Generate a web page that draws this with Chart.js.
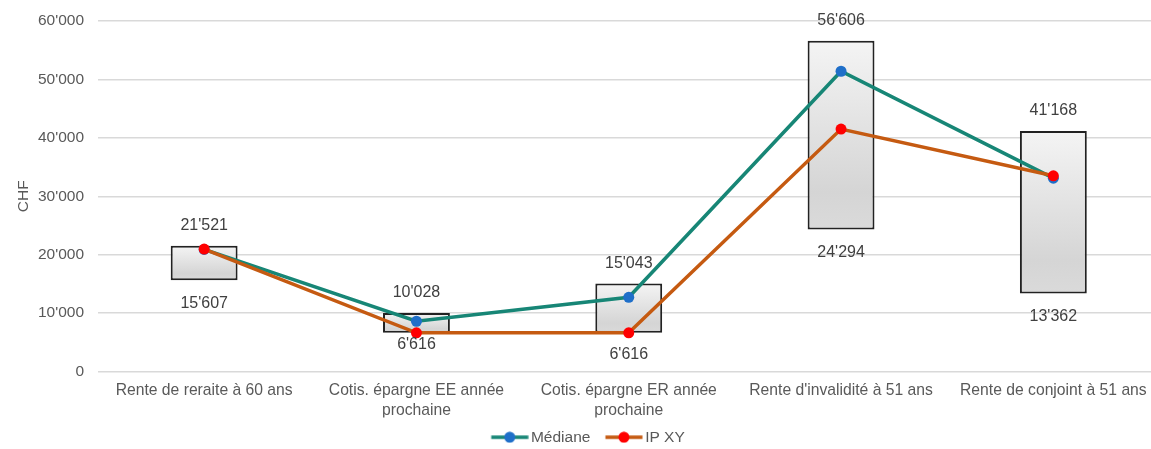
<!DOCTYPE html>
<html>
<head>
<meta charset="utf-8">
<script src="https://cdn.jsdelivr.net/npm/chart.js@4/dist/chart.umd.min.js"></script>
<style>
  html, body { margin: 0; padding: 0; background: #ffffff; overflow: hidden; }
  #wrap { width: 1165px; height: 449px; overflow: hidden; }
</style>
</head>
<body>
<div id="wrap"><canvas id="chart" width="1165" height="455"></canvas></div>
<script>
// Categories (multi-line labels as arrays)
const categories = [
  ['Rente de reraite à 60 ans'],
  ['Cotis. épargne EE année', 'prochaine'],
  ['Cotis. épargne ER année', 'prochaine'],
  ["Rente d'invalidité à 51 ans"],
  ['Rente de conjoint à 51 ans']
];

// Range (min – max) per category
const rangeMin = [15607, 6616, 6616, 24294, 13362];
const rangeMax = [21521, 10028, 15043, 56606, 41168];

// Series
const mediane = [20900, 8600, 12700, 51400, 33100];
const ipXY = [20950, 6616, 6616, 41500, 33500];

// Y axis
const yMin = 0;
const yMax = 60000;
const yStep = 10000;

const FONT = "'Liberation Sans', Arial, sans-serif";
const TEAL = '#178676';
const BLUE = '#1f6fc9';
const ORANGE = '#c55a11';
const RED = '#ff0000';

function fmt(v) {
  return String(Math.round(v)).replace(/\B(?=(\d{3})+(?!\d))/g, "'");
}

// Legend marker: a short line with a dot in the middle, shifted so the
// text sits close to the line end
function legendMarker(lineColor, dotColor) {
  const c = document.createElement('canvas');
  c.width = 46; c.height = 12;
  const g = c.getContext('2d');
  g.strokeStyle = lineColor;
  g.lineWidth = 3.5;
  g.beginPath(); g.moveTo(8.5, 6); g.lineTo(45.5, 6); g.stroke();
  g.fillStyle = dotColor;
  g.beginPath(); g.arc(27, 6, 5.5, 0, Math.PI * 2); g.fill();
  return c;
}

// Min / max labels around each range box
const rangeLabels = {
  id: 'rangeLabels',
  afterDatasetsDraw(chart, args, opts) {
    const ctx = chart.ctx;
    const y = chart.scales.y;
    const meta = chart.getDatasetMeta(2);
    ctx.save();
    ctx.font = opts.size + 'px ' + FONT;
    ctx.fillStyle = opts.color;
    ctx.textAlign = 'center';
    ctx.textBaseline = 'middle';
    meta.data.forEach((bar, i) => {
      ctx.fillText(fmt(rangeMax[i]), bar.x, y.getPixelForValue(rangeMax[i]) - opts.above);
      ctx.fillText(fmt(rangeMin[i]), bar.x, y.getPixelForValue(rangeMin[i]) + opts.below[i]);
    });
    ctx.restore();
  }
};

function boxFill(context) {
  const chart = context.chart;
  if (!chart.chartArea || context.type !== 'data') return '#e2e2e2';
  const y = chart.scales.y;
  const i = context.dataIndex;
  const top = y.getPixelForValue(rangeMax[i]);
  const bot = y.getPixelForValue(rangeMin[i]);
  const g = chart.ctx.createLinearGradient(0, top, 0, bot);
  g.addColorStop(0, '#f4f4f4');
  g.addColorStop(0.8, '#d5d5d5');
  g.addColorStop(1, '#dadada');
  return g;
}

new Chart(document.getElementById('chart'), {
  data: {
    labels: categories,
    datasets: [
      {
        type: 'line',
        label: 'Médiane',
        data: mediane,
        borderColor: TEAL,
        borderWidth: 3.5,
        backgroundColor: BLUE,
        pointBackgroundColor: BLUE,
        pointBorderWidth: 0,
        pointRadius: 5.5,
        tension: 0,
        order: 2
      },
      {
        type: 'line',
        label: 'IP XY',
        data: ipXY,
        borderColor: ORANGE,
        borderWidth: 3.5,
        backgroundColor: RED,
        pointBackgroundColor: RED,
        pointBorderWidth: 0,
        pointRadius: 5.5,
        tension: 0,
        order: 1
      },
      {
        type: 'bar',
        label: 'Plage',
        data: rangeMin.map((v, i) => [v, rangeMax[i]]),
        backgroundColor: boxFill,
        borderColor: '#222222',
        borderWidth: 2,
        borderSkipped: false,
        barPercentage: 0.315,
        categoryPercentage: 1,
        order: 3
      }
    ]
  },
  options: {
    responsive: false,
    animation: false,
    devicePixelRatio: 1,
    layout: { padding: { top: 21, right: 4, left: 12, bottom: 0 } },
    plugins: {
      tooltip: { enabled: false },
      legend: {
        position: 'bottom',
        labels: {
          usePointStyle: true,
          pointStyleWidth: 35,
          padding: 12,
          color: '#595959',
          font: { family: FONT, size: 15.5 },
          sort: (a, b) => a.datasetIndex - b.datasetIndex,
          filter: (item) => item.datasetIndex !== 2,
          generateLabels(chart) {
            const items = Chart.defaults.plugins.legend.labels.generateLabels(chart);
            items.forEach(it => {
              if (it.datasetIndex === 0) it.pointStyle = legendMarker(TEAL, BLUE);
              if (it.datasetIndex === 1) it.pointStyle = legendMarker(ORANGE, RED);
            });
            return items;
          }
        }
      },
      rangeLabels: {
        size: 16,
        color: '#404040',
        above: 20,
        below: [23, 12, 22, 23, 23]
      }
    },
    scales: {
      x: {
        grid: { display: false, drawTicks: false },
        border: { display: false },
        ticks: {
          color: '#595959',
          padding: 10,
          maxRotation: 0,
          autoSkip: false,
          font: { family: FONT, size: 15.7, lineHeight: 1.22 }
        },
        afterFit(s) { s.height = 46; }
      },
      y: {
        min: yMin,
        max: yMax,
        grid: { color: '#d9d9d9', lineWidth: 1.5, drawTicks: false },
        border: { display: false },
        ticks: {
          stepSize: yStep,
          padding: 14,
          color: '#595959',
          font: { family: FONT, size: 15.5 },
          callback: (v) => fmt(v)
        },
        title: {
          display: true,
          text: 'CHF',
          color: '#595959',
          font: { family: FONT, size: 15.5 },
          padding: { top: 2, bottom: 0 }
        },
        afterFit(s) {
          s.width = 86;
          s.paddingTop = 0;
          s.paddingBottom = 0;
        }
      }
    }
  },
  plugins: [rangeLabels]
});
</script>
</body>
</html>
